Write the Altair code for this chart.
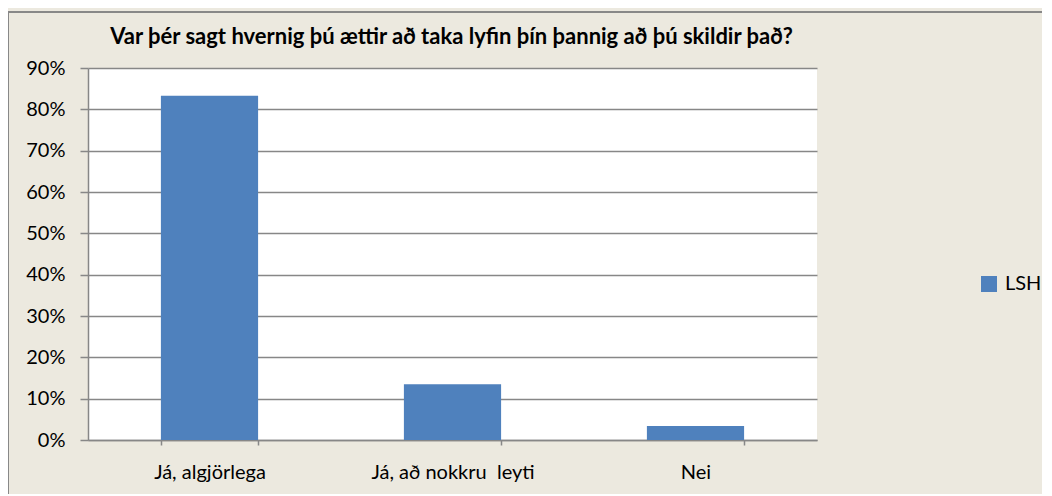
import altair as alt
import pandas as pd

categories = ["Já, algjörlega", "Já, að nokkru\u00a0 leyti", "Nei"]
values = [83.3, 13.5, 3.4]
series = ["LSH", "LSH", "LSH"]
y_ticks = [0, 10, 20, 30, 40, 50, 60, 70, 80, 90]
title_text = "Var þér sagt hvernig þú ættir að taka lyfin þín þannig að þú skildir það?"

df = pd.DataFrame({"cat": categories, "val": values, "series": series})

FONT = "Lato"
GRID = "#878787"
BG = "#ECE9DF"
W, H = 729, 372

bars = alt.Chart(df).mark_bar(color="#4F81BD").encode(
    x=alt.X("cat:N", sort=categories, title=None,
            scale=alt.Scale(paddingInner=0.6, paddingOuter=0.3),
            axis=alt.Axis(labelAngle=0, tickBand="extent", domainColor=GRID,
                          tickColor=GRID, tickSize=5, domainWidth=1.5, tickWidth=1.5,
                          labelFontSize=20, labelFont=FONT, labelColor="black",
                          labelPadding=17, grid=False)),
    y=alt.Y("val:Q", title=None,
            scale=alt.Scale(domain=[0, 90], nice=False),
            axis=alt.Axis(values=y_ticks, labelExpr="datum.value + '%'",
                          domainColor=GRID, domainWidth=1.5, tickColor=GRID,
                          tickSize=8, tickWidth=1.5, gridColor=GRID, gridWidth=1.5,
                          labelFontSize=20, labelFont=FONT, labelColor="black",
                          labelPadding=15)),
    color=alt.Color("series:N", scale=alt.Scale(domain=["LSH"], range=["#4F81BD"]),
                    legend=alt.Legend(title=None, orient="none", legendX=891, legendY=206,
                                      symbolType="square", symbolSize=256,
                                      symbolStrokeWidth=0, labelFont=FONT,
                                      labelFontSize=20, labelColor="black",
                                      padding=0, labelOffset=6)),
)

border = alt.Chart(df).mark_rect(fill=None, stroke=GRID, strokeWidth=1.5).encode(
    x=alt.value(-80), x2=alt.value(W + 300), y=alt.value(-56), y2=alt.value(H + 100)
)

title = alt.Chart(pd.DataFrame({"t": [title_text]})).mark_text(
    font=FONT, fontSize=22, fontWeight="bold", color="black",
    align="center", baseline="alphabetic"
).encode(x=alt.value(W / 2 - 1), y=alt.value(-24), text="t:N")

chart = alt.layer(border, bars, title).properties(
    width=W, height=H,
    background=BG,
    autosize=alt.AutoSizeParams(type="none"),
    padding={"left": 80, "top": 60, "right": 225, "bottom": 54},
).configure_view(fill="white", stroke=None)

chart.save("out.html", embed_options={"renderer": "svg", "actions": False})
